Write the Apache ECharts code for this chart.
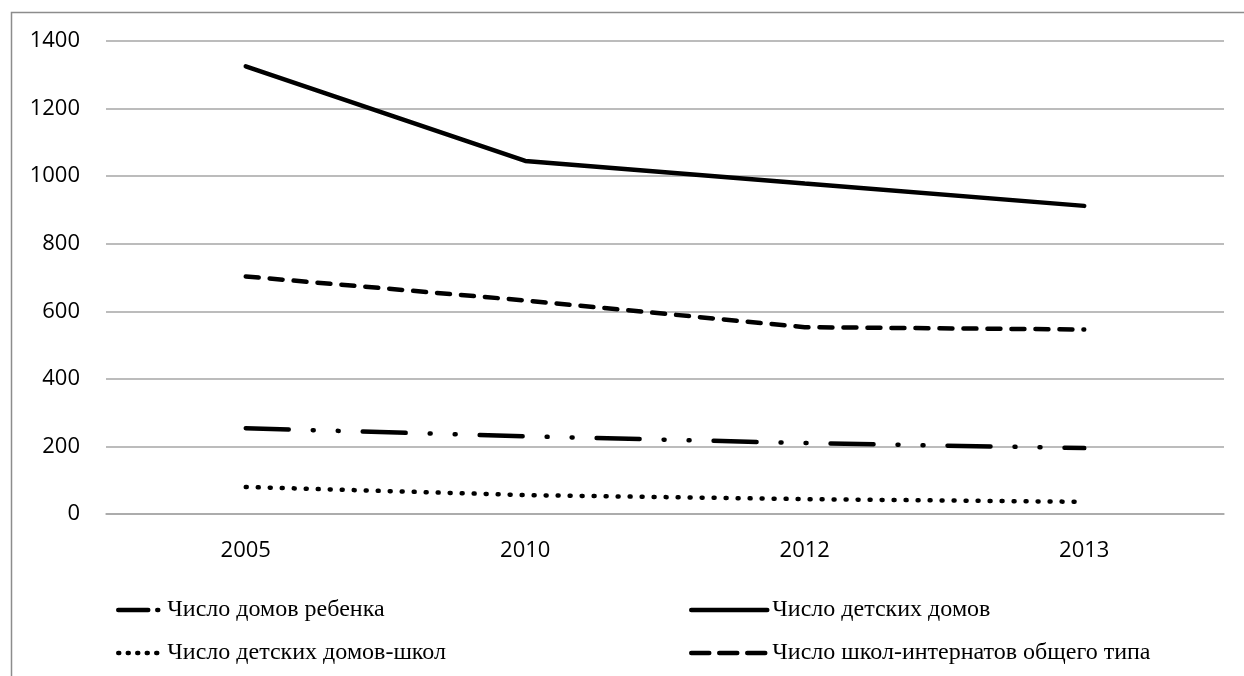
<!DOCTYPE html>
<html>
<head>
<meta charset="utf-8">
<script src="https://cdn.jsdelivr.net/npm/echarts@6/dist/echarts.min.js"></script>
<style>
html,body{margin:0;padding:0;background:#fff;}
#chart{width:1244px;height:676px;}
</style>
</head>
<body>
<div id="chart"></div>
<script>
const categories = ['2005', '2010', '2012', '2013'];
const seriesNames = [
  'Число домов ребенка',
  'Число детских домов',
  'Число детских домов-школ',
  'Число школ-интернатов общего типа'
];
const domovRebenka = [254, 230, 210, 195];
const detskihDomov = [1325, 1045, 978, 912];
const domovShkol = [80, 56, 44, 36];
const internatov = [703, 632, 553, 546];
const yTicks = [0, 200, 400, 600, 800, 1000, 1200, 1400];

const chart = echarts.init(document.getElementById('chart'));
const legendText = {fontFamily: '"Liberation Serif", "Times New Roman", serif', fontSize: 24, color: '#000'};
const lw = 4.5;
const dashRebenka = [43, 24, 1, 24, 1, 24];
const dashShkol = [1, 11];
const dashInternat = [13, 11];
function legendCfg(name, left, top, width, dash) {
  return {
    data: [{name: name, itemStyle: {opacity: 0}}],
    left: left, top: top, itemWidth: width, itemHeight: 14, itemGap: 0, padding: 0,
    textStyle: legendText,
    itemStyle: {opacity: 0},
    lineStyle: {width: lw, cap: 'round', color: '#000', type: dash}
  };
}
const axisFont = {color: '#000', fontFamily: '"Open Sans", sans-serif', fontSize: 22};
chart.setOption({
  animation: false,
  backgroundColor: '#fff',
  graphic: [{
    type: 'rect', left: 9, top: 10, shape: {width: 1400, height: 800},
    style: {fill: 'none', stroke: '#8c8c8c', lineWidth: 1.5}, silent: true
  }],
  grid: {left: 106, right: 20, top: 41, bottom: 162},
  xAxis: {
    type: 'category', data: categories, boundaryGap: true,
    axisLine: {lineStyle: {color: '#a6a6a6', width: 1.5}},
    axisTick: {show: false},
    axisLabel: Object.assign({margin: 26}, axisFont)
  },
  yAxis: {
    type: 'value', min: yTicks[0], max: yTicks[yTicks.length - 1], interval: 200,
    axisLine: {show: false}, axisTick: {show: false},
    splitLine: {lineStyle: {color: '#a6a6a6', width: 1.5}},
    axisLabel: Object.assign({margin: 26, formatter: function (v) { return String(v); }}, axisFont)
  },
  legend: [
    legendCfg(seriesNames[0], 116, 598, 44, [30, 9, 1, 40]),
    legendCfg(seriesNames[1], 689, 598, 76, 'solid'),
    legendCfg(seriesNames[2], 116, 641, 44, [1, 8.5]),
    legendCfg(seriesNames[3], 689, 641, 76, [18, 10])
  ],
  series: [
    {name: seriesNames[0], type: 'line', data: domovRebenka, symbol: 'none', color: '#000',
     lineStyle: {color: '#000', width: lw, cap: 'round', type: dashRebenka}},
    {name: seriesNames[1], type: 'line', data: detskihDomov, symbol: 'none', color: '#000',
     lineStyle: {color: '#000', width: lw, cap: 'round', type: 'solid'}},
    {name: seriesNames[2], type: 'line', data: domovShkol, symbol: 'none', color: '#000',
     lineStyle: {color: '#000', width: lw, cap: 'round', type: dashShkol}},
    {name: seriesNames[3], type: 'line', data: internatov, symbol: 'none', color: '#000',
     lineStyle: {color: '#000', width: lw, cap: 'round', type: dashInternat}}
  ]
});
</script>
</body>
</html>
